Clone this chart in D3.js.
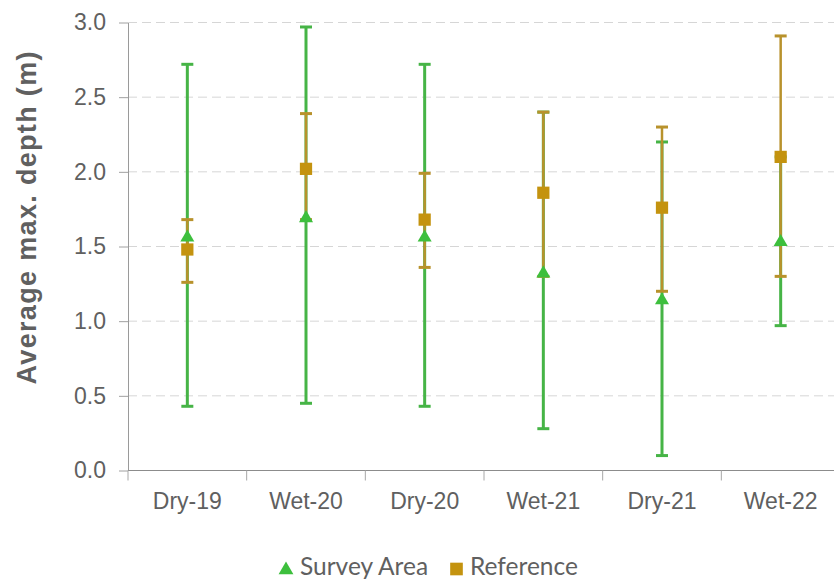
<!DOCTYPE html>
<html>
<head>
<meta charset="utf-8">
<script src="https://cdn.jsdelivr.net/npm/d3@7"></script>
<style>
  html, body { margin: 0; padding: 0; background: #ffffff; }
  svg { display: block; }
</style>
</head>
<body>
<svg id="chart" width="834" height="585"></svg>
<script>
// Seasonal survey periods
const categories = ["Dry-19", "Wet-20", "Dry-20", "Wet-21", "Dry-21", "Wet-22"];

// Survey Area: mean with upper / lower range
const surveyMean = [1.56, 1.69, 1.56, 1.32, 1.14, 1.53];
const surveyHigh = [2.72, 2.97, 2.72, 2.40, 2.20, 2.10];
const surveyLow  = [0.43, 0.45, 0.43, 0.28, 0.10, 0.97];

// Reference sites: mean with upper / lower range
const refMean = [1.48, 2.02, 1.68, 1.86, 1.76, 2.10];
const refHigh = [1.68, 2.39, 1.99, 2.40, 2.30, 2.91];
const refLow  = [1.26, 1.68, 1.36, 1.30, 1.20, 1.30];

const yTicks = [0, 0.5, 1.0, 1.5, 2.0, 2.5, 3.0];

const seriesNames = ["Survey Area", "Reference"];

const GREEN = "#3dbf3d";
const GREEN_LINE = "#46b446";
const GOLD = "#c4930f";
const GOLD_LINE = "#b8922c";
const TEXT = "#606060";

const svg = d3.select("#chart");

const plotLeft = 128, plotRight = 840, plotTop = 22.5, plotBottom = 470.5;

const x = d3.scaleBand().domain(categories).range([plotLeft, plotRight]).paddingInner(0).paddingOuter(0);
const y = d3.scaleLinear().domain([0, 3]).range([plotBottom, plotTop]);

// Horizontal dashed gridlines
svg.append("g")
  .selectAll("line")
  .data(yTicks.filter(t => t > 0))
  .join("line")
  .attr("x1", plotLeft)
  .attr("x2", 834)
  .attr("y1", d => y(d))
  .attr("y2", d => y(d))
  .attr("stroke", "#d6d6d6")
  .attr("stroke-width", 1)
  .attr("stroke-dasharray", "9,5");

// Y axis
const yAxis = svg.append("g")
  .attr("transform", `translate(${plotLeft},0)`)
  .call(d3.axisLeft(y).tickValues(yTicks).tickFormat(d3.format(".1f")).tickSize(9).tickSizeOuter(0).tickPadding(13));
yAxis.select(".domain").attr("stroke", "#9a9a9a");
yAxis.selectAll(".tick line").attr("stroke", "#a0a0a0");
yAxis.selectAll(".tick text")
  .attr("fill", TEXT)
  .style("font-family", "'Liberation Sans', Arial, sans-serif")
  .style("font-size", "23px");

// X axis: baseline, boundary ticks and centred category labels
const xAxis = svg.append("g");
xAxis.append("line")
  .attr("x1", plotLeft).attr("x2", 834)
  .attr("y1", plotBottom).attr("y2", plotBottom)
  .attr("stroke", "#8c8c8c").attr("stroke-width", 1);
xAxis.selectAll(".xtick")
  .data(categories)
  .join("line")
  .attr("class", "xtick")
  .attr("x1", d => x(d)).attr("x2", d => x(d))
  .attr("y1", plotBottom).attr("y2", plotBottom + 10)
  .attr("stroke", "#a8a8a8");
xAxis.selectAll(".xlabel")
  .data(categories)
  .join("text")
  .attr("class", "xlabel")
  .attr("x", d => x(d) + x.bandwidth() / 2)
  .attr("y", 509)
  .attr("text-anchor", "middle")
  .attr("fill", TEXT)
  .style("font-family", "'Liberation Sans', Arial, sans-serif")
  .style("font-size", "23px")
  .text(d => d);

// Y axis title
svg.append("text")
  .attr("transform", "translate(36,218) rotate(-90)")
  .attr("text-anchor", "middle")
  .attr("fill", TEXT)
  .attr("textLength", 333)
  .attr("lengthAdjust", "spacing")
  .style("font-family", "'Liberation Sans', Arial, sans-serif")
  .style("font-size", "27px")
  .style("font-weight", "bold")
  .text("Average max. depth (m)");

// Error bars
function errorBars(cls, high, low, color, width) {
  const g = svg.append("g").attr("class", cls);
  const rows = categories.map((c, i) => ({ c, hi: high[i], lo: low[i] }));
  const cx = d => x(d.c) + x.bandwidth() / 2;
  g.selectAll(".stem").data(rows).join("line")
    .attr("x1", cx).attr("x2", cx)
    .attr("y1", d => y(d.hi)).attr("y2", d => y(d.lo))
    .attr("stroke", color).attr("stroke-width", width);
  g.selectAll(".capHi").data(rows).join("line")
    .attr("x1", d => cx(d) - 6).attr("x2", d => cx(d) + 6)
    .attr("y1", d => y(d.hi)).attr("y2", d => y(d.hi))
    .attr("stroke", color).attr("stroke-width", 3);
  g.selectAll(".capLo").data(rows).join("line")
    .attr("x1", d => cx(d) - 6).attr("x2", d => cx(d) + 6)
    .attr("y1", d => y(d.lo)).attr("y2", d => y(d.lo))
    .attr("stroke", color).attr("stroke-width", 3);
}
errorBars("survey-err", surveyHigh, surveyLow, GREEN_LINE, 3);
errorBars("ref-err", refHigh, refLow, GOLD_LINE, 2.5);

// Mean markers
const tri = d3.symbol().type(d3.symbolTriangle).size(85);
const sq = d3.symbol().type(d3.symbolSquare).size(150);

svg.append("g").selectAll("path")
  .data(categories.map((c, i) => ({ c, v: surveyMean[i] })))
  .join("path")
  .attr("d", tri)
  .attr("transform", d => `translate(${x(d.c) + x.bandwidth() / 2},${y(d.v)})`)
  .attr("fill", GREEN);

svg.append("g").selectAll("path")
  .data(categories.map((c, i) => ({ c, v: refMean[i] })))
  .join("path")
  .attr("d", sq)
  .attr("transform", d => `translate(${x(d.c) + x.bandwidth() / 2},${y(d.v)})`)
  .attr("fill", GOLD);

// Legend
const legend = svg.append("g");
legend.append("path")
  .attr("d", d3.symbol().type(d3.symbolTriangle).size(95))
  .attr("transform", "translate(286,570)")
  .attr("fill", GREEN);
legend.append("text")
  .attr("x", 300).attr("y", 575)
  .attr("fill", TEXT)
  .style("font-family", "Lato, 'Open Sans', sans-serif")
  .style("font-size", "24.5px")
  .text(seriesNames[0]);
legend.append("path")
  .attr("d", d3.symbol().type(d3.symbolSquare).size(160))
  .attr("transform", "translate(456.5,569)")
  .attr("fill", GOLD);
legend.append("text")
  .attr("x", 470).attr("y", 575)
  .attr("fill", TEXT)
  .style("font-family", "Lato, 'Open Sans', sans-serif")
  .style("font-size", "24.5px")
  .text(seriesNames[1]);
</script>
</body>
</html>
